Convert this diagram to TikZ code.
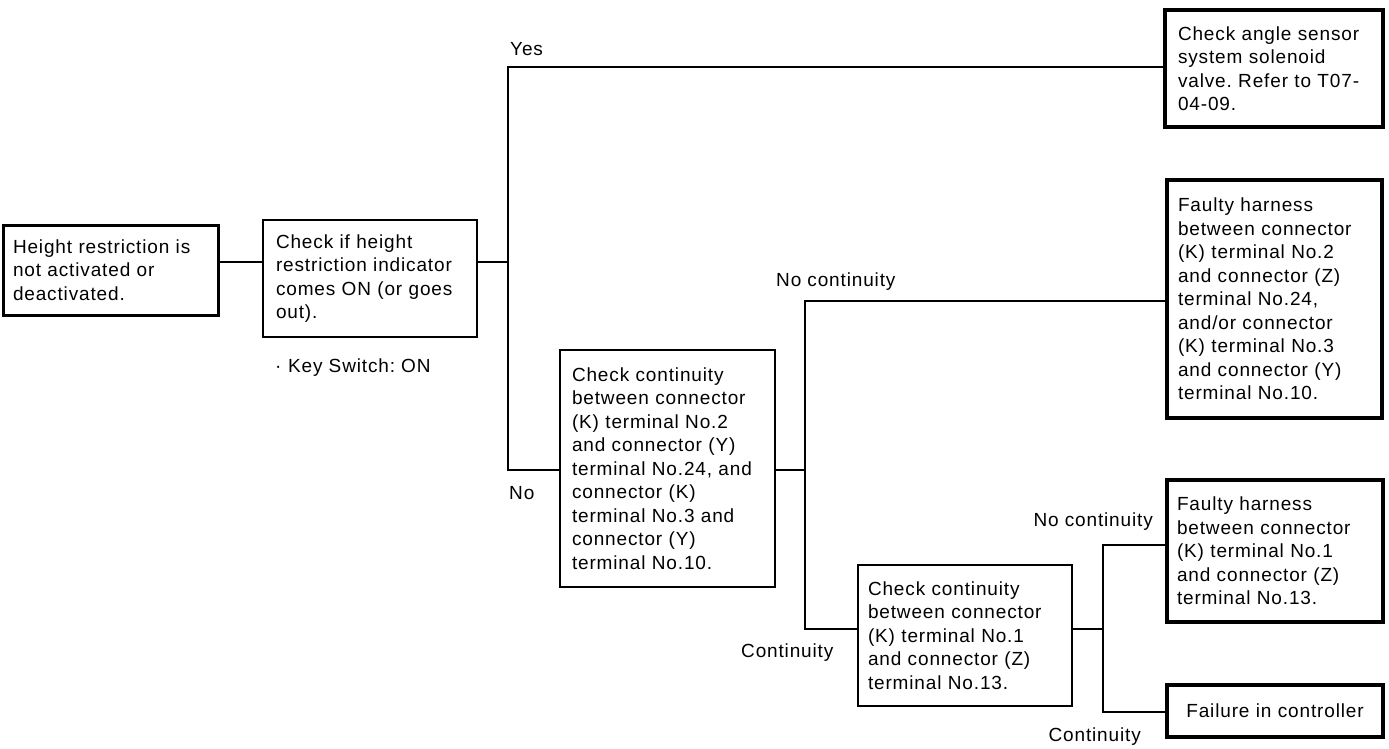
\documentclass[tikz,border=0pt]{standalone}
\usepackage{fontspec}
\setmainfont[LetterSpace=4.5]{Liberation Sans}
\frenchspacing
\begin{document}
\begin{tikzpicture}[x=1pt,y=-1pt,
  every node/.style={font=\fontsize{19}{23.5}\selectfont},
  link/.style={line width=2pt},
  stepbox/.style={draw, line width=2pt, align=left, inner ysep=0pt},
  startbox/.style={stepbox, line width=3pt},
  endbox/.style={stepbox, line width=4pt},
  lbl/.style={inner sep=0pt}]
\useasboundingbox (0,0) rectangle (1389,749);

% boxes: positioned by centre, sized from the layout grid
\node[startbox, minimum width=215pt, minimum height=90pt, text width=195pt, inner xsep=10pt]
  (b1) at (110.5,270) {Height restriction is\\not activated or\\deactivated.};
\node[stepbox, minimum width=214pt, minimum height=117pt, text width=188pt, inner xsep=13pt]
  (b2) at (370,278.5) {Check if height\\restriction indicator\\comes ON (or goes\\out).};
\node[endbox, minimum width=218pt, minimum height=117pt, text width=192pt, inner xsep=13pt]
  (b3) at (1274,68.5) {Check angle sensor\\system solenoid\\valve. Refer to T07-\\04-09.};
\node[endbox, minimum width=215pt, minimum height=238pt, text width=193pt, inner xsep=11pt]
  (b4) at (1274.5,299) {Faulty harness\\between connector\\(K) terminal No.2\\and connector (Z)\\terminal No.24,\\and/or connector\\(K) terminal No.3\\and connector (Y)\\terminal No.10.};
\node[stepbox, minimum width=215pt, minimum height=237pt, text width=191pt, inner xsep=12pt]
  (b5) at (667.5,468.5) {Check continuity\\between connector\\(K) terminal No.2\\and connector (Y)\\terminal No.24, and\\connector (K)\\terminal No.3 and\\connector (Y)\\terminal No.10.};
\node[stepbox, minimum width=214pt, minimum height=141pt, text width=194pt, inner xsep=10pt]
  (b6) at (965,635.5) {Check continuity\\between connector\\(K) terminal No.1\\and connector (Z)\\terminal No.13.};
\node[endbox, minimum width=216pt, minimum height=142pt, text width=196pt, inner xsep=10pt]
  (b7) at (1275,551) {Faulty harness\\between connector\\(K) terminal No.1\\and connector (Z)\\terminal No.13.};
\node[endbox, minimum width=216pt, minimum height=52pt, align=center, text width=196pt, inner xsep=10pt]
  (b8) at (1275,711) {Failure in controller};

% junction points of the branch lines
\coordinate (j1) at (508,262);
\coordinate (j1top) at (508,67);
\coordinate (j1bot) at (508,470);
\coordinate (j2) at (805,470);
\coordinate (j2top) at (805,301);
\coordinate (j2bot) at (805,629);
\coordinate (j3) at (1103,629);
\coordinate (j3top) at (1103,545);
\coordinate (j3bot) at (1103,712);

% connectors
\draw[link] (b1.east |- j1) -- (b2.west |- j1);
\draw[link] (b2.east |- j1) -- (j1);
\draw[link] (b3.west |- j1top) -- (j1top) -- (j1bot) -- (b5.west |- j1bot);
\draw[link] (b5.east |- j2) -- (j2);
\draw[link] (b4.west |- j2top) -- (j2top) -- (j2bot) -- (b6.west |- j2bot);
\draw[link] (b6.east |- j3) -- (j3);
\draw[link] (b7.west |- j3top) -- (j3top) -- (j3bot) -- (b8.west |- j3bot);

% branch labels
\node[lbl, anchor=west] (yes) at (510,49) {Yes};
\node[lbl, anchor=west] (no) at (509,493) {No};
\node[lbl, anchor=west] (nc1) at (776,282) {No continuity};
\node[lbl, anchor=west] (c1) at (741,653) {Continuity};
\node[lbl, anchor=east] (nc2) at (1153,522) {No continuity};
\node[lbl, anchor=east] (c2) at (1141,737) {Continuity};
\node[lbl, anchor=west] (key) at (275,368) {·\hspace{0.35em}Key Switch: ON};
\end{tikzpicture}
\end{document}
